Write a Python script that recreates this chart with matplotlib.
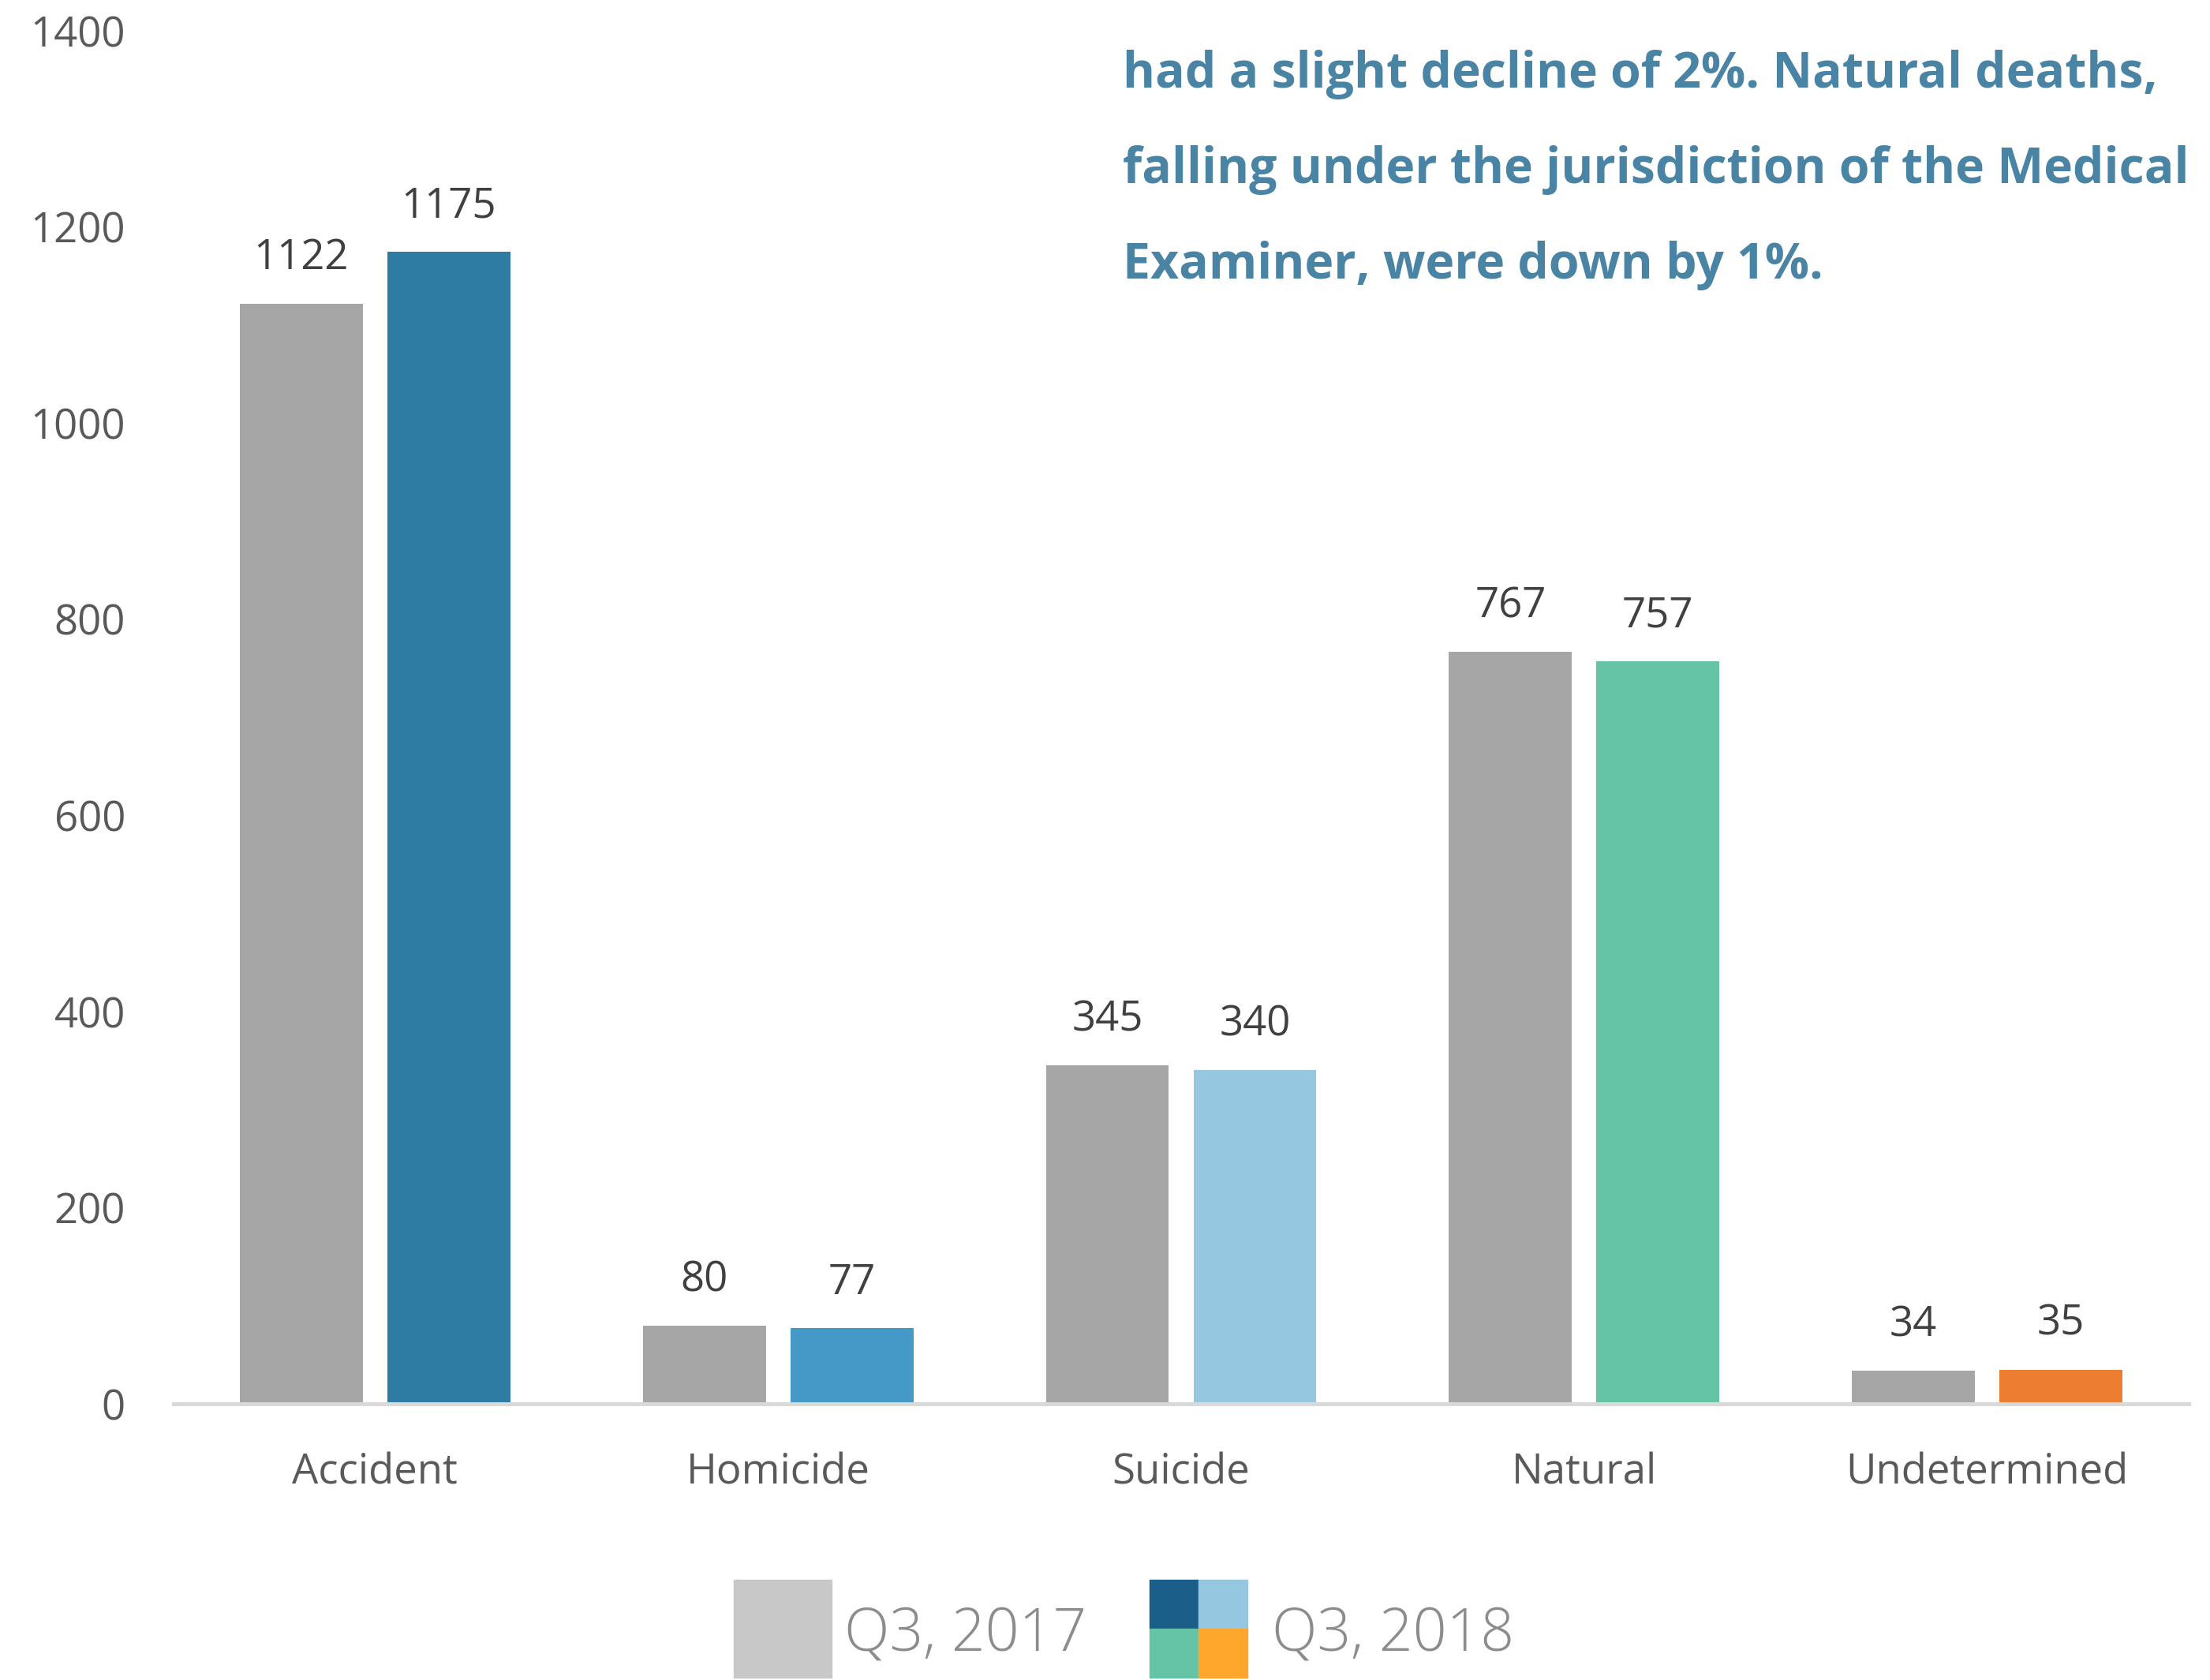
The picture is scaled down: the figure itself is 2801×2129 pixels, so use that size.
import matplotlib
matplotlib.use("Agg")
import matplotlib.pyplot as plt
from matplotlib.patches import Rectangle
import numpy as np

categories = ["Accident", "Homicide", "Suicide", "Natural", "Undetermined"]
q3_2017 = [1122, 80, 345, 767, 34]
q3_2018 = [1175, 77, 340, 757, 35]
colors_2018 = ["#2e7ca4", "#4499c6", "#96c7e0", "#66c4a6", "#ed7d31"]
color_2017 = "#a6a6a6"
yticks = [0, 200, 400, 600, 800, 1000, 1200, 1400]
legend_labels = ["Q3, 2017", "Q3, 2018"]
legend_quad_colors = ["#1b5e8a", "#96c7e0", "#66c4a6", "#ffa62b"]
note_lines = ["had a slight decline of 2%. Natural deaths,",
              "falling under the jurisdiction of the Medical",
              "Examiner, were down by 1%."]

W, H = 2801, 2129
dpi = 100
fig = plt.figure(figsize=(W / dpi, H / dpi), dpi=dpi)
fig.patch.set_facecolor("white")

ax = fig.add_axes([220 / W, 1 - 1779 / H, (2774 - 220) / W, (1779 - 39) / H])
x = np.arange(len(categories))
bw = 0.305
off = 0.183
b1 = ax.bar(x - off, q3_2017, width=bw, color=color_2017)
b2 = ax.bar(x + off, q3_2018, width=bw, color=colors_2018)

for bars, vals in ((b1, q3_2017), (b2, q3_2018)):
    for r, v in zip(bars, vals):
        ax.annotate(str(v), (r.get_x() + r.get_width() / 2, v),
                    xytext=(0, 22), textcoords="offset points",
                    ha="center", va="bottom", fontsize=38,
                    family="Open Sans", color="#404040")

ax.set_xlim(-0.5, 4.5)
ax.set_ylim(0, 1400)
ax.set_yticks(yticks)
ax.set_yticklabels([str(t) for t in yticks], fontsize=38, family="Open Sans", color="#595959")
ax.set_xticks(x)
ax.set_xticklabels(categories, fontsize=38, family="Open Sans", color="#595959")
ax.tick_params(axis="y", length=0, pad=44)
ax.tick_params(axis="x", length=0, pad=44)
for s in ("left", "right", "top"):
    ax.spines[s].set_visible(False)
ax.spines["bottom"].set_color("#d9d9d9")
ax.spines["bottom"].set_linewidth(3.6)

# Note text
for i, line in enumerate(note_lines):
    fig.text(1423 / W, 1 - (95 + 120.5 * i) / H, line, fontsize=45, family="Open Sans",
             weight="bold", color="#4a84a4", ha="left", va="center")

# Legend
s = 124
hs = s / 2
fig.patches.append(Rectangle((930 / W, 1 - 2126 / H), s / W, s / H,
                             transform=fig.transFigure, color="#c8c8c8"))
qx, qy = 1457, 2126
positions = [(qx, qy - hs), (qx + hs, qy - hs), (qx, qy), (qx + hs, qy)]
for (px, py), c in zip(positions, legend_quad_colors):
    fig.patches.append(Rectangle((px / W, 1 - py / H), hs / W, hs / H,
                                 transform=fig.transFigure, color=c))
fig.text(1070 / W, 1 - 2092 / H, legend_labels[0], fontsize=54, family="Open Sans",
         weight="light", color="#8c8c8c", ha="left", va="baseline")
fig.text(1612 / W, 1 - 2092 / H, legend_labels[1], fontsize=54, family="Open Sans",
         weight="light", color="#8c8c8c", ha="left", va="baseline")

fig.savefig("out.png", dpi=dpi, facecolor="white")
